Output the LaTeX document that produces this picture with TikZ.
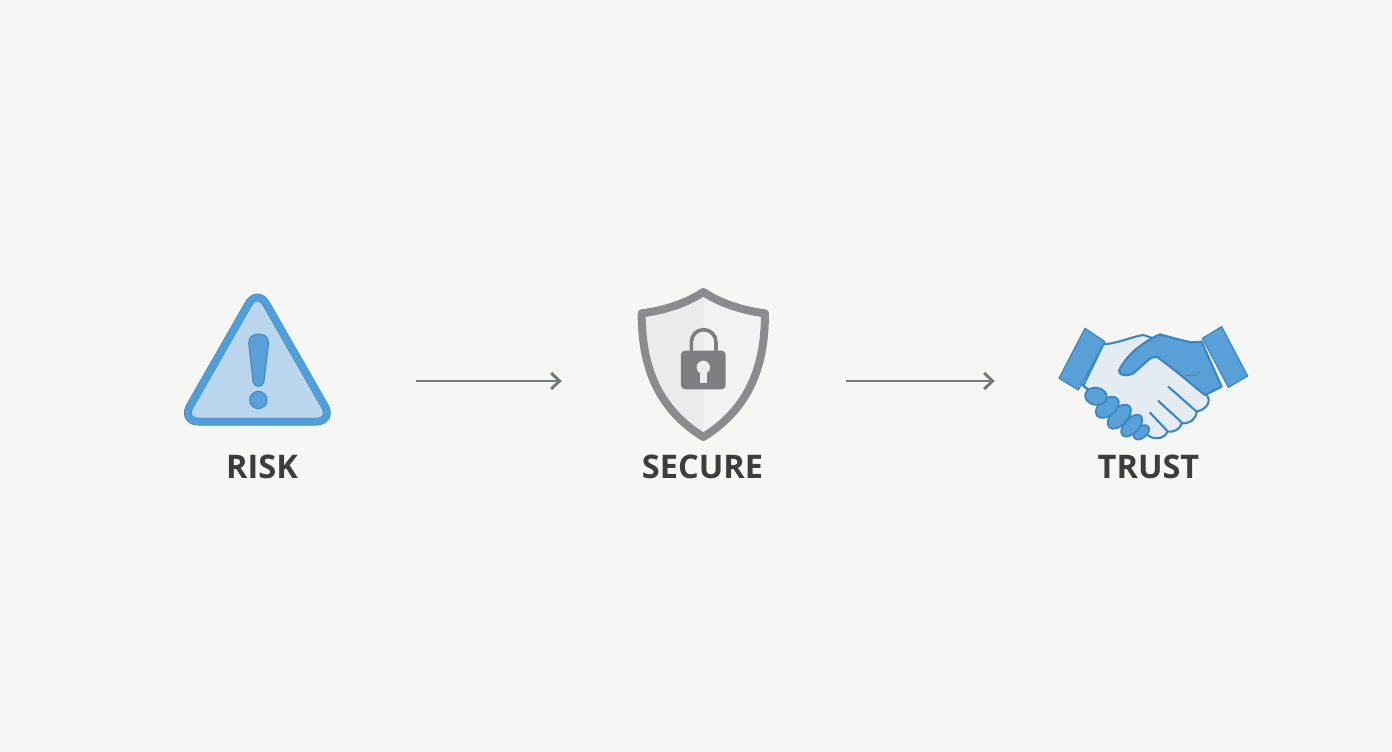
\documentclass[tikz,border=0pt]{standalone}
\usepackage{fontspec}
\setmainfont{Open Sans}
\usetikzlibrary{arrows.meta}
\definecolor{bgc}{HTML}{F6F6F5}
\definecolor{blueA}{HTML}{519FDA}
\definecolor{blueB}{HTML}{5AA0D8}
\definecolor{blueD}{HTML}{3A86C2}
\definecolor{blueL}{HTML}{BAD6EC}
\definecolor{handL}{HTML}{E4EBF1}
\definecolor{greyA}{HTML}{8B8B8D}
\definecolor{greyB}{HTML}{7E7E80}
\definecolor{arrowc}{HTML}{77787A}
\definecolor{textc}{HTML}{3D3D3D}
\tikzset{
  labeltext/.style={font=\fontsize{32.5}{33}\selectfont\bfseries,text=textc,inner sep=0pt},
  iconbox/.style={inner sep=0pt,draw=none,fill=none,minimum height=1pt},
  flowarrow/.style={draw=arrowc,line width=2.5pt,-{Straight Barb[length=8.5pt,width=16pt,line width=3pt]}},
  zoomA/.style={x=.33333pt,y=-.33333pt,shift={(510,840)}},
  zoomB/.style={x=.33333pt,y=-.33333pt,shift={(1860,840)}},
  zoomC/.style={x=.33333pt,y=-.33333pt,shift={(3150,945)}},
  finger/.style={fill=blueB,draw=blueD,line width=1.7pt},
  hand/.style={line width=2.1pt,draw=blueD,line join=round,line cap=round}
}
\begin{document}
\begin{tikzpicture}[x=1pt,y=-1pt]
\useasboundingbox (0,0) rectangle (1392,752);
\fill[bgc] (0,0) rectangle (1392,752);

% anchors for the connectors
\node[iconbox,minimum width=149pt] (riskicon) at (257.5,381) {};
\node[iconbox,minimum width=133pt] (secureicon) at (703.5,381) {};
\node[iconbox,minimum width=189pt] (trusticon) at (1153.5,381) {};

% RISK icon
\begin{scope}[zoomA]
  \draw[draw=blueD,fill=blueL,line width=7.8pt,line join=round,rounded corners=18pt]
    (262,25) -- (33,425) -- (491,425) -- cycle;
  \draw[draw=blueA,line width=6.8pt,line join=round,rounded corners=18pt]
    (262,25) -- (33,425) -- (491,425) -- cycle;
  \draw[fill=blueB,draw=blueD,line width=.9pt]
    (236,190) .. controls (236,170) and (250,162) .. (266,162)
    .. controls (282,162) and (296,170) .. (296,190)
    -- (282,305) .. controls (280,324) and (251,324) .. (249,305) -- cycle;
  \draw[fill=blueB,draw=blueD,line width=.9pt] (265,360) circle (26);
\end{scope}

% SECURE icon
\begin{scope}[zoomB]
  \fill[black!8] (250,36) .. controls (300,70) and (370,92) .. (435,100)
    .. controls (435,270) and (380,390) .. (250,471)
    .. controls (120,390) and (65,270) .. (65,100)
    .. controls (130,92) and (200,70) .. (250,36) -- cycle;
  \fill[black!5] (250,36) .. controls (300,70) and (370,92) .. (435,100)
    .. controls (435,270) and (380,390) .. (250,471) -- cycle;
  \draw[draw=greyA,line width=8pt,line join=round]
    (250,36) .. controls (300,70) and (370,92) .. (435,100)
    .. controls (435,270) and (380,390) .. (250,471)
    .. controls (120,390) and (65,270) .. (65,100)
    .. controls (130,92) and (200,70) .. (250,36) -- cycle;
  \draw[draw=greyB,line width=3.6pt] (214,215) -- (214,186)
    arc[start angle=180,end angle=360,radius=37] -- (288,215);
  \fill[greyB,rounded corners=4pt] (183,212) rectangle (317,328);
  \fill[bgc!96!black] (250,262) circle (20);
  \fill[bgc!96!black] (240,270) -- (260,270) -- (260,308) -- (240,308) -- cycle;
\end{scope}

% TRUST icon
\begin{scope}[zoomC]
  % light hand
  \draw[hand,fill=handL]
    (160,88) .. controls (205,85) and (245,65) .. (280,60)
    -- (310,70) -- (400,150) -- (470,238)
    .. controls (482,255) and (478,280) .. (440,290)
    .. controls (438,315) and (415,328) .. (395,325)
    .. controls (390,345) and (370,352) .. (352,350)
    .. controls (345,370) and (320,375) .. (300,365)
    -- (270,345) -- (100,212) -- cycle;
  % finger creases
  \draw[hand] (355,215) -- (440,290);
  \draw[hand] (325,258) -- (395,322);
  \draw[hand] (300,293) -- (352,348);
  % knuckles
  \draw[hand] (95,208) -- (118,228);
  \draw[finger,rotate around={40:(274,352)}] (274,352) ellipse (27 and 17);
  \draw[finger,rotate around={47:(245,332)}] (245,332) ellipse (40 and 22);
  \draw[finger,rotate around={47:(208,305)}] (208,305) ellipse (44 and 25);
  \draw[finger,rotate around={40:(172,277)}] (172,277) ellipse (40 and 25);
  \draw[finger,rotate around={-10:(138,244)}] (138,244) ellipse (33 and 26);
  % blue hand
  \draw[hand,fill=blueB]
    (330,58) .. controls (365,68) and (395,76) .. (425,82) -- (455,80)
    -- (515,215) -- (465,240)
    .. controls (420,205) and (370,160) .. (320,125)
    .. controls (310,125) and (300,130) .. (295,135)
    -- (250,175) .. controls (238,180) and (230,182) .. (220,180)
    .. controls (208,178) and (205,168) .. (210,160)
    .. controls (225,135) and (240,118) .. (255,105)
    .. controls (280,85) and (305,68) .. (330,58) -- cycle;
  \draw[draw=blueD,line width=.8pt] (408,180) .. controls (425,186) and (442,182) .. (450,170);
  % cuffs
  \draw[draw=blueD,fill=blueB,line width=1.2pt,line join=round]
    (105,40) -- (165,80) -- (85,225) -- (27,190) -- cycle;
  \draw[draw=blueD,fill=blueB,line width=1.2pt,line join=round]
    (457,70) -- (515,35) -- (593,183) -- (535,217) -- cycle;
\end{scope}

% labels
\node[labeltext] (risklabel) at (262,467) {RISK};
\node[labeltext] (securelabel) at (702.5,467) {SECURE};
\node[labeltext] (trustlabel) at (1148.5,467) {TRUST};

% connectors
\draw[flowarrow,shorten <=84pt,shorten >=75pt] (riskicon.east) -- (secureicon.west);
\draw[flowarrow,shorten <=76pt,shorten >=64pt] (secureicon.east) -- (trusticon.west);
\end{tikzpicture}
\end{document}
